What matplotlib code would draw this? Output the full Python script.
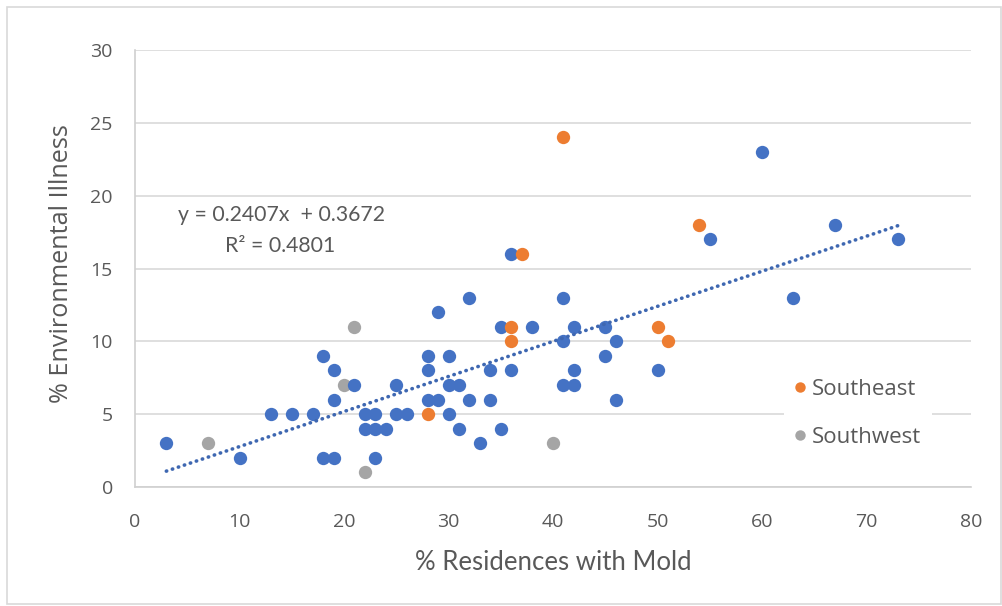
import matplotlib
matplotlib.use("Agg")
import numpy as np
from matplotlib import pyplot as plt
from matplotlib.lines import Line2D
from matplotlib.patches import Rectangle

# other regions (blue)
other_x = [3, 10, 13, 15, 17, 18, 18, 19, 19, 19, 21, 22, 23, 22, 23, 24, 23,
           25, 25, 26, 28, 28, 28, 29, 29, 30, 30, 31, 30, 31, 32, 32, 33,
           34, 34, 35, 35, 36, 36, 38, 41, 41, 41, 42, 42, 42, 45, 45, 46, 46,
           50, 55, 60, 63, 67, 73]
other_y = [3, 2, 5, 5, 5, 9, 2, 2, 8, 6, 7, 5, 5, 4, 4, 4, 2,
           7, 5, 5, 9, 8, 6, 12, 6, 9, 7, 7, 5, 4, 13, 6, 3,
           8, 6, 11, 4, 16, 8, 11, 13, 10, 7, 11, 8, 7, 11, 9, 10, 6,
           8, 17, 23, 13, 18, 17]

southeast_x = [28, 36, 36, 37, 41, 50, 51, 54]
southeast_y = [5, 11, 10, 16, 24, 11, 10, 18]

southwest_x = [7, 20, 21, 22, 40]
southwest_y = [3, 7, 11, 1, 3]

slope, intercept, r2 = 0.2407, 0.3672, 0.4801

blue = "#4472C4"
orange = "#ED7D31"
gray = "#A5A5A5"
txt = "#595959"
font = "Open Sans"

fig = plt.figure(figsize=(10.03, 6.06), dpi=100)
ax = fig.add_axes([135/1003, 1-487/606, 836/1003, 437/606])

ms = 92
ax.scatter(southwest_x, southwest_y, s=ms, color=gray, linewidths=0, zorder=3)
ax.scatter(other_x, other_y, s=ms, color=blue, linewidths=0, zorder=4)
ax.scatter(southeast_x, southeast_y, s=ms, color=orange, linewidths=0, zorder=5)

all_x = np.array(other_x + southeast_x + southwest_x)
tx = np.array([all_x.min(), all_x.max()])
ax.plot(tx, slope*tx + intercept, color="#3E67B1", lw=2.6, linestyle=(0, (0.1, 1.65)),
        dash_capstyle="round", zorder=6)

ax.set_xlim(0, 80)
ax.set_ylim(0, 30)
ax.set_xticks(range(0, 81, 10))
ax.set_yticks(range(0, 31, 5))
ax.grid(axis="y", color="#D9D9D9", lw=1.2)
ax.set_axisbelow(True)
for s in ["top", "right"]:
    ax.spines[s].set_visible(False)
for s in ["left", "bottom"]:
    ax.spines[s].set_color("#D0D0D0")
    ax.spines[s].set_linewidth(1.2)
ax.tick_params(length=0, labelcolor=txt, labelsize=14)
ax.tick_params(axis="x", pad=19)
ax.tick_params(axis="y", pad=16)
for lab in ax.get_xticklabels() + ax.get_yticklabels():
    lab.set_family(font)

ax.set_xlabel("% Residences with Mold", color=txt, fontsize=18.5, family="Lato", va="center")
ax.xaxis.set_label_coords(0.5, (487-563)/437)
ax.set_ylabel("% Environmental Illness", color=txt, fontsize=18.2, family=font, va="center")
ax.yaxis.set_label_coords((62-135)/836, (487-264)/437)

ax.text((281-135)/836, (487-215)/437, f"y = {slope}x  + {intercept}", transform=ax.transAxes,
        ha="center", va="center", color=txt, fontsize=15.3, family="Lato")
ax.text((280-135)/836, (487-246)/437, f"R² = {r2}", transform=ax.transAxes,
        ha="center", va="center", color=txt, fontsize=15.3, family="Lato")

handles = [Line2D([], [], marker="o", ls="", color=orange, markersize=7.5, markeredgewidth=0),
           Line2D([], [], marker="o", ls="", color=gray, markersize=7.5, markeredgewidth=0)]
leg = ax.legend(handles, ["Southeast", "Southwest"], loc="center",
                bbox_to_anchor=((858-135)/836, (487-413.5)/437), frameon=True,
                facecolor="white", edgecolor="none", framealpha=1, fancybox=False,
                handlelength=0.5, handletextpad=0.3, labelspacing=1.2,
                borderpad=0.45, prop={"family": font, "size": 16})
for t in leg.get_texts():
    t.set_color(txt)
leg.set_zorder(7)

fig.patches.append(Rectangle((7/1003, 2/606), 994/1003, 597/606, transform=fig.transFigure,
                             fill=False, edgecolor="#D9D9D9", lw=1.2))

fig.savefig("out.png", dpi=100)
